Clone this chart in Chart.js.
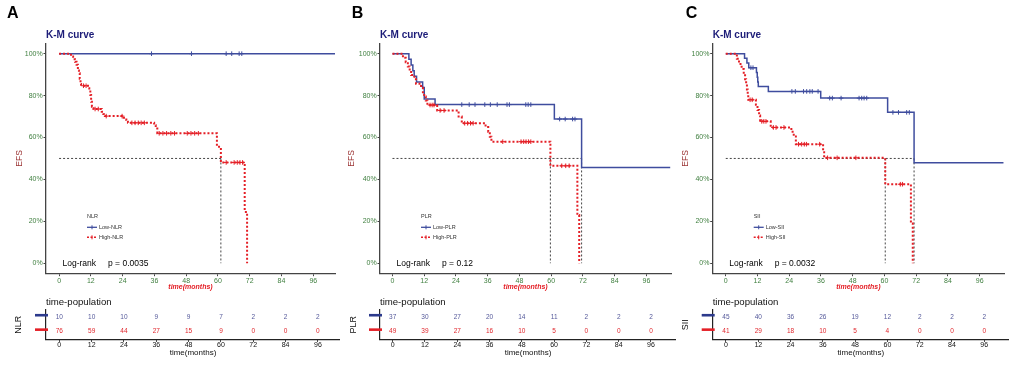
<!DOCTYPE html>
<html><head><meta charset="utf-8">
<script src="https://cdn.jsdelivr.net/npm/chart.js@4/dist/chart.umd.min.js"></script>
<style>
html,body{margin:0;padding:0;background:#fff;width:1021px;height:366px;overflow:hidden;position:relative;}
</style></head><body>
<script>
// ================= DATA =================
const timeTicks = [0, 12, 24, 36, 48, 60, 72, 84, 96];
const survTicks = [0, 0.2, 0.4, 0.6, 0.8, 1.0];
const survTickLabels = ['0%', '20%', '40%', '60%', '80%', '100%'];
const panelLetters = ['A', 'B', 'C'];
const groupNames = ['NLR', 'PLR', 'SII'];
const lowLabels = ['Low-NLR', 'Low-PLR', 'Low-SII'];
const highLabels = ['High-NLR', 'High-PLR', 'High-SII'];
const pValues = ['p = 0.0035', 'p = 0.12', 'p = 0.0032'];

// Panel A (NLR)
const lowA_t = [0, 105];
const lowA_s = [1, 1];
const lowA_cens = [34.9, 50.0, 63.1, 65.2, 68.0, 69.0];
const highA_t = [0, 4.5, 5.3, 6.0, 6.6, 7.1, 7.5, 7.8, 8.1, 8.3, 10.9, 11.4, 11.8, 12.1, 12.4, 13.0, 16.1, 16.7, 17.3, 24.4, 25.4, 26.0, 35.9, 36.5, 37.1, 59.6, 61.1, 70.1, 71.0];
const highA_s = [1, 0.987, 0.974, 0.961, 0.947, 0.92, 0.907, 0.88, 0.855, 0.847, 0.835, 0.82, 0.803, 0.771, 0.747, 0.736, 0.723, 0.712, 0.702, 0.694, 0.683, 0.67, 0.659, 0.643, 0.62, 0.556, 0.481, 0.245, 0];
const highA_cens = [9.2, 10.2, 13.6, 14.8, 17.8, 23.8, 27.5, 28.7, 29.9, 31.0, 32.2, 37.8, 39.2, 40.6, 42.2, 43.6, 48.4, 49.8, 51.2, 52.6, 63.1, 66.1, 67.3, 68.3, 69.3];
const medianA = [61.1];
const riskLowA = [10, 10, 10, 9, 9, 7, 2, 2, 2];
const riskHighA = [76, 59, 44, 27, 15, 9, 0, 0, 0];

// Panel B (PLR)
const lowB_t = [0, 6.2, 7.05, 7.7, 8.2, 9.1, 11.4, 12.0, 16.1, 61.2, 71.5, 105];
const lowB_s = [1, 0.973, 0.946, 0.919, 0.892, 0.865, 0.838, 0.784, 0.757, 0.688, 0.457, 0.457];
const lowB_cens = [26.2, 29.0, 31.2, 34.9, 37.0, 39.6, 43.3, 44.2, 50.4, 51.3, 52.3, 63.2, 65.3, 68.1, 69.0];
const highB_t = [0, 3.95, 5.0, 5.8, 6.5, 7.05, 8.3, 8.9, 10.8, 11.5, 12.0, 12.6, 13.2, 16.9, 25.0, 26.2, 35.2, 36.2, 36.8, 37.4, 59.7, 69.9, 70.6];
const highB_s = [1, 0.98, 0.959, 0.939, 0.918, 0.898, 0.878, 0.857, 0.837, 0.816, 0.796, 0.776, 0.755, 0.729, 0.70, 0.668, 0.65, 0.628, 0.604, 0.58, 0.465, 0.23, 0];
const highB_cens = [14.2, 15.0, 15.7, 18.0, 19.5, 27.3, 28.4, 29.5, 30.5, 41.7, 48.6, 49.6, 50.5, 51.4, 52.3, 64.0, 65.5, 66.8];
const medianB = [59.7, 71.5];
const riskLowB = [37, 30, 27, 20, 14, 11, 2, 2, 2];
const riskHighB = [49, 39, 27, 16, 10, 5, 0, 0, 0];

// Panel C (SII)
const lowC_t = [0, 7.1, 8.0, 8.7, 11.6, 11.9, 12.1, 12.3, 16.1, 35.9, 61.2, 71.2, 105];
const lowC_s = [1, 0.978, 0.956, 0.933, 0.91, 0.888, 0.865, 0.843, 0.82, 0.788, 0.72, 0.48, 0.48];
const lowC_cens = [9.5, 10.3, 25.0, 26.3, 29.4, 30.6, 31.8, 32.7, 34.9, 39.3, 40.3, 43.6, 50.4, 51.4, 52.3, 53.3, 63.2, 65.3, 68.4, 69.4];
const highC_t = [0, 4.2, 5.0, 6.0, 6.8, 7.3, 7.7, 8.0, 8.3, 8.5, 11.4, 12.0, 12.6, 13.0, 17.0, 24.8, 25.7, 26.5, 36.8, 37.2, 60.3, 70.0, 70.7];
const highC_s = [1, 0.976, 0.951, 0.927, 0.902, 0.878, 0.854, 0.829, 0.805, 0.78, 0.756, 0.731, 0.705, 0.677, 0.648, 0.627, 0.605, 0.568, 0.53, 0.503, 0.377, 0.19, 0];
const highC_cens = [9.2, 10.0, 13.6, 14.4, 15.2, 18.0, 19.0, 22.0, 27.5, 28.7, 29.7, 30.5, 35.5, 38.5, 42.1, 49.2, 66.0, 66.8];
const medianC = [60.3, 71.2];
const riskLowC = [45, 40, 36, 26, 19, 12, 2, 2, 2];
const riskHighC = [41, 29, 18, 10, 5, 4, 0, 0, 0];

// ================= STYLE / LAYOUT =================
const F = "'Liberation Sans', Arial, Helvetica, sans-serif";
Chart.defaults.font.family = F;
const BLUE = '#3f4d9e', RED = '#e41f26', GREEN = '#3f7f3f', NAVY = '#1c1c78';
const AX = '#444', EFS_COL = '#9c3535', LOWTXT = '#55599a', HIGHTXT = '#e0262c';

const layout = [
  {left: 0,   axis: 46,    right: 340,  xMin: -4.94, xMax: 104.2, letterX: 7,     yTitleX: 20,    rtTitleX: 19},
  {left: 340, axis: 380,   right: 676,  xMin: -4.72, xMax: 105.3, letterX: 351.7, yTitleX: 351.7, rtTitleX: 353.3},
  {left: 676, axis: 712.7, right: 1009, xMin: -4.94, xMax: 105.2, letterX: 685.7, yTitleX: 685.5, rtTitleX: 686}
];
const KM_H = 295, KM_TOP = 43.2, KM_BOTTOM = 273.7;
const RT_TOP_PAGE = 292, RT_H = 74, RT_CA_TOP = 18, RT_CA_BOTTOM = 47.3;

const panels = [
  {lowT: lowA_t, lowS: lowA_s, lowC: lowA_cens, highT: highA_t, highS: highA_s, highC: highA_cens, medians: medianA, riskLow: riskLowA, riskHigh: riskHighA},
  {lowT: lowB_t, lowS: lowB_s, lowC: lowB_cens, highT: highB_t, highS: highB_s, highC: highB_cens, medians: medianB, riskLow: riskLowB, riskHigh: riskHighB},
  {lowT: lowC_t, lowS: lowC_s, lowC: lowC_cens, highT: highC_t, highS: highC_s, highC: highC_cens, medians: medianC, riskLow: riskLowC, riskHigh: riskHighC}
];

// ================= HELPERS =================
function makeCanvas(x, y, w, h) {
  const c = document.createElement('canvas');
  c.width = w; c.height = h;
  c.style.cssText = `position:absolute;left:${x}px;top:${y}px;width:${w}px;height:${h}px`;
  document.body.appendChild(c);
  return c;
}
function stepPts(t, s) { return t.map((x, i) => ({x: x, y: s[i]})); }
function survAt(t, s, c) { let v = s[0]; for (let i = 0; i < t.length; i++) { if (t[i] <= c) v = s[i]; } return v; }
function censPts(t, s, cs) { return cs.map(c => ({x: c, y: survAt(t, s, c)})); }
function medianPts(meds) {
  const mx = Math.max(...meds);
  const pts = [{x: 0, y: 0.5}, {x: mx, y: 0.5}];
  meds.forEach(m => { pts.push({x: m, y: null}); pts.push({x: m, y: 0.5}); pts.push({x: m, y: 0}); });
  return pts;
}

const kmAnnot = {
  id: 'kmAnnot',
  afterDraw(chart, args, o) {
    const p = o.p, L = layout[p];
    const {ctx, chartArea: ca} = chart;
    ctx.save();
    ctx.textBaseline = 'middle'; ctx.textAlign = 'left';
    ctx.fillStyle = '#000';
    ctx.font = `bold 16px ${F}`;
    ctx.fillText(panelLetters[p], L.letterX - L.left, 14);
    ctx.fillStyle = NAVY;
    ctx.font = `bold 10px ${F}`;
    ctx.fillText('K-M curve', ca.left, 35);
    // legend
    const lx = ca.left + 41;
    ctx.fillStyle = '#333';
    ctx.font = `5.5px ${F}`;
    ctx.fillText(groupNames[p], lx, 216.7);
    const rows = [[227.3, BLUE, [], 1.3, lowLabels[p]], [237.3, RED, [2, 1.5], 1.6, highLabels[p]]];
    rows.forEach(r => {
      ctx.strokeStyle = r[1]; ctx.lineWidth = r[3]; ctx.setLineDash(r[2]);
      ctx.beginPath(); ctx.moveTo(lx, r[0]); ctx.lineTo(lx + 10, r[0]); ctx.stroke();
      ctx.setLineDash([]); ctx.lineWidth = 1;
      ctx.beginPath(); ctx.moveTo(lx + 5, r[0] - 2); ctx.lineTo(lx + 5, r[0] + 2); ctx.stroke();
      ctx.fillStyle = '#333';
      ctx.fillText(r[4], lx + 12, r[0]);
    });
    // log-rank
    ctx.fillStyle = '#000';
    ctx.font = `8.5px ${F}`;
    ctx.fillText('Log-rank', ca.left + 16.5, 264);
    ctx.fillText(pValues[p], ca.left + 62, 264);
    ctx.restore();
  }
};

const riskAnnot = {
  id: 'riskAnnot',
  afterDraw(chart, args, o) {
    const p = o.p, P = panels[p];
    const {ctx, chartArea: ca, scales: {x, y}} = chart;
    ctx.save();
    ctx.textBaseline = 'middle'; ctx.textAlign = 'left';
    ctx.fillStyle = '#111';
    ctx.font = `9.6px ${F}`;
    ctx.fillText('time-population', ca.left, 10.7);
    ctx.font = `6.5px ${F}`;
    ctx.textAlign = 'center';
    timeTicks.forEach((t, i) => {
      const px = x.getPixelForValue(t);
      ctx.fillStyle = LOWTXT; ctx.fillText(String(P.riskLow[i]), px, y.getPixelForValue(2));
      ctx.fillStyle = HIGHTXT; ctx.fillText(String(P.riskHigh[i]), px, y.getPixelForValue(1));
    });
    ctx.lineWidth = 2.6;
    [[2, '#2c3a8c'], [1, RED]].forEach(r => {
      const py = y.getPixelForValue(r[0]) - 2;
      ctx.strokeStyle = r[1];
      ctx.beginPath(); ctx.moveTo(ca.left - 11, py); ctx.lineTo(ca.left + 2, py); ctx.stroke();
    });
    ctx.restore();
  }
};

function buildKM(p) {
  const L = layout[p], P = panels[p];
  const cv = makeCanvas(L.left, 0, L.right - L.left, KM_H);
  const yW = L.axis - L.left;
  new Chart(cv, {
    type: 'line',
    data: {datasets: [
      {data: censPts(P.highT, P.highS, P.highC), showLine: false, pointStyle: 'cross', pointRadius: 2.3, pointBorderWidth: 1, borderColor: RED, backgroundColor: RED},
      {data: stepPts(P.highT, P.highS), stepped: true, borderColor: RED, borderWidth: 2, borderDash: [2, 2], pointRadius: 0, fill: false},
      {data: censPts(P.lowT, P.lowS, P.lowC), showLine: false, pointStyle: 'cross', pointRadius: 2.3, pointBorderWidth: 1, borderColor: BLUE, backgroundColor: BLUE},
      {data: stepPts(P.lowT, P.lowS), stepped: true, borderColor: BLUE, borderWidth: 1.5, pointRadius: 0, fill: false},
      {data: medianPts(P.medians), borderColor: '#444', borderWidth: 1, borderDash: [2, 2], pointRadius: 0, fill: false, spanGaps: false}
    ]},
    options: {
      animation: false, responsive: false, events: [],
      layout: {padding: {top: KM_TOP, left: 0, right: 0, bottom: 0}},
      plugins: {legend: {display: false}, tooltip: {enabled: false}, title: {display: false}, kmAnnot: {p: p}},
      scales: {
        x: {
          type: 'linear', min: L.xMin, max: L.xMax,
          afterBuildTicks: s => { s.ticks = timeTicks.map(v => ({value: v})); },
          afterFit: s => { s.height = KM_H - KM_BOTTOM; },
          ticks: {color: GREEN, font: {size: 7, lineHeight: 1}, padding: 1, maxRotation: 0, autoSkip: false, callback: v => String(v)},
          grid: {display: true, drawOnChartArea: false, drawTicks: true, tickLength: 2.5, color: AX},
          border: {display: true, color: AX, width: 1.3},
          title: {display: true, text: 'time(months)', color: RED, font: {size: 7, weight: 'bold', style: 'italic'}, padding: {top: 0, bottom: 3.5}}
        },
        y: {
          type: 'linear', min: -0.05, max: 1.05,
          afterBuildTicks: s => { s.ticks = survTicks.map(v => ({value: v})); },
          afterFit: s => { s.width = yW; },
          ticks: {color: GREEN, font: {size: 7, lineHeight: 1}, padding: 0.8, callback: (v, i) => survTickLabels[i]},
          grid: {display: true, drawOnChartArea: false, drawTicks: true, tickLength: 2.5, color: AX},
          border: {display: true, color: AX, width: 1.3},
          title: {display: true, text: 'EFS', color: EFS_COL, font: {size: 8.5}, padding: {top: L.yTitleX - L.left - 5.1, bottom: 0}}
        }
      }
    },
    plugins: [kmAnnot]
  });
}

function buildRisk(p) {
  const L = layout[p];
  const cv = makeCanvas(L.left, RT_TOP_PAGE, L.right - L.left, RT_H);
  const yW = L.axis - L.left;
  new Chart(cv, {
    type: 'line',
    data: {datasets: []},
    options: {
      animation: false, responsive: false, events: [],
      layout: {padding: {top: RT_CA_TOP, left: 0, right: 0, bottom: 0}},
      plugins: {legend: {display: false}, tooltip: {enabled: false}, riskAnnot: {p: p}},
      scales: {
        x: {
          type: 'linear', min: L.xMin, max: L.xMax,
          afterBuildTicks: s => { s.ticks = timeTicks.map(v => ({value: v})); },
          afterFit: s => { s.height = RT_H - RT_CA_BOTTOM; },
          ticks: {color: '#111', font: {size: 7, lineHeight: 1}, padding: 0, maxRotation: 0, autoSkip: false, callback: v => String(v)},
          grid: {display: true, drawOnChartArea: false, drawTicks: true, tickLength: 2.5, color: '#222'},
          border: {display: true, color: '#222', width: 1.2},
          title: {display: true, text: 'time(months)', color: '#111', font: {size: 8}, padding: {top: 0, bottom: 8.5}}
        },
        y: {
          type: 'linear', min: 0.47, max: 2.5,
          afterBuildTicks: s => { s.ticks = []; },
          afterFit: s => { s.width = yW; },
          ticks: {display: false},
          grid: {display: false},
          border: {display: true, color: '#222', width: 1.2},
          title: {display: true, text: groupNames[p], color: '#111', font: {size: 9}, padding: {top: L.rtTitleX - L.left - 5.4, bottom: 0}}
        }
      }
    },
    plugins: [riskAnnot]
  });
}

for (let p = 0; p < 3; p++) { buildKM(p); buildRisk(p); }
</script>
</body></html>
